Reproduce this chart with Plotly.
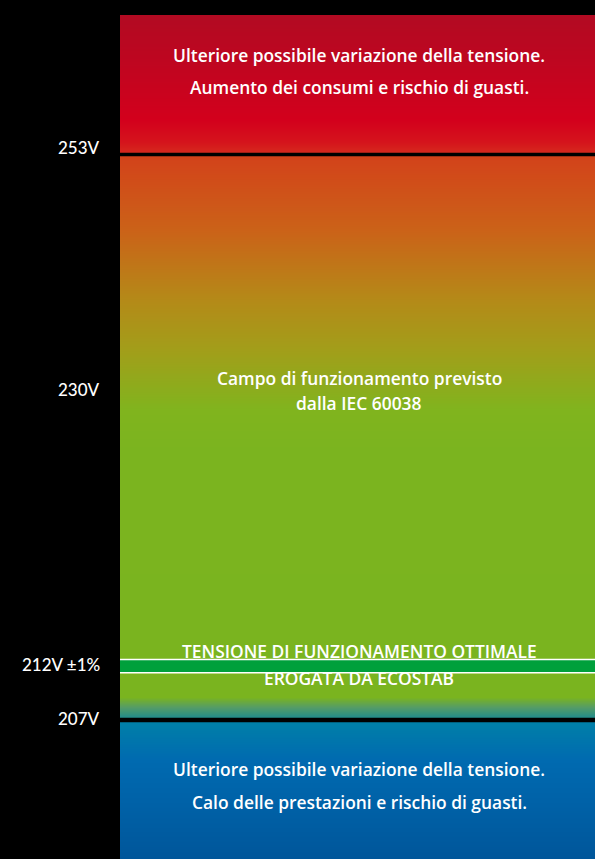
import numpy as np
import plotly.graph_objects as go

# Voltage thresholds and their labels on the left side
voltages = [253, 230, 212, 207]
voltage_labels = ["253V", "230V", "212V ±1%", "207V"]

# Descriptions of each zone (one entry per text line)
zone_over = ["Ulteriore possibile variazione della tensione.",
             "Aumento dei consumi e rischio di guasti."]
zone_iec = ["Campo di funzionamento previsto",
            "dalla IEC 60038"]
zone_ecostab = ["TENSIONE DI FUNZIONAMENTO OTTIMALE",
                "EROGATA DA ECOSTAB"]
zone_under = ["Ulteriore possibile variazione della tensione.",
              "Calo delle prestazioni e rischio di guasti."]

# ---- layout (canvas units: 1 unit = 1 px, y grows downward) ----
W, H = 595, 859
COL_X0, COL_X1 = 120, W
COL_Y0 = 15
COL_CX = 359
LABEL_X = 102
level_y = {253: 154.5, 230: 389, 212: 666, 207: 720}
label_dy = {253: -7, 230: 0, 212: -2, 207: -2}
ECO_BAND = (660, 672)
LABEL_FONT = "Lato"
TEXT_FONT = "Open Sans"

# colour gradient of the column: (y position, colour)
grad = [
    (15, "#b20a22"), (60, "#be0620"), (120, "#d3001c"), (142, "#d5141c"),
    (153, "#d62a1d"), (155, "#d3421a"), (230, "#cb6218"), (300, "#b48a18"),
    (350, "#a29e1a"), (410, "#80b41e"), (450, "#7bb41f"), (697, "#7ab41f"),
    (707, "#559c66"), (718.5, "#1c8a8f"), (721, "#0080a8"), (760, "#006ab0"),
    (800, "#0062a8"), (859, "#00569a"),
]
ymin, ymax = grad[0][0], grad[-1][0]
colorscale = [[(y - ymin) / (ymax - ymin), c] for y, c in grad]

edges = np.arange(COL_Y0, H + 1, 1.0)
centers = (edges[:-1] + edges[1:]) / 2
z = [[v] for v in centers]

fig = go.Figure()
fig.add_trace(go.Heatmap(
    x=[COL_X0, COL_X1], y=edges, z=z,
    colorscale=colorscale, zmin=ymin, zmax=ymax,
    showscale=False, hoverinfo="skip", zsmooth="best",
))

shapes = []
# black separators at 253V and 207V
for v, half in ((253, 1.7), (207, 2.2)):
    yc = level_y[v]
    shapes.append(dict(type="rect", xref="x", yref="y", layer="above",
                       x0=COL_X0, x1=COL_X1, y0=yc - half, y1=yc + half,
                       fillcolor="#000000", line_width=0))
# ECOSTAB optimal band with white borders
shapes.append(dict(type="rect", xref="x", yref="y", layer="above",
                   x0=COL_X0, x1=COL_X1, y0=ECO_BAND[0], y1=ECO_BAND[1],
                   fillcolor="#00a03c", line_width=0))
for yb in (ECO_BAND[0] - 0.5, ECO_BAND[1] + 0.8):
    shapes.append(dict(type="line", xref="x", yref="y", layer="above",
                       x0=COL_X0, x1=COL_X1, y0=yb, y1=yb,
                       line=dict(color="#ffffff", width=1.6)))

annotations = []
for v, lab in zip(voltages, voltage_labels):
    annotations.append(dict(x=LABEL_X, y=level_y[v] + label_dy[v], text=lab,
                            xref="x", yref="y", xanchor="right", yanchor="middle",
                            showarrow=False,
                            font=dict(family=LABEL_FONT, size=17, color="#ffffff",
                                      weight=500)))

zone_lines = [(zone_over, [55, 87]), (zone_iec, [378, 403]),
              (zone_ecostab, [651, 678]), (zone_under, [769, 802])]
for lines, ys in zone_lines:
    for txt, yy in zip(lines, ys):
        annotations.append(dict(x=COL_CX, y=yy, text=txt, xref="x", yref="y",
                                xanchor="center", yanchor="middle", showarrow=False,
                                font=dict(family=TEXT_FONT, size=17.4, color="#ffffff",
                                          weight=600)))

fig.update_layout(
    width=W, height=H, margin=dict(l=0, r=0, t=0, b=0),
    paper_bgcolor="#000000", plot_bgcolor="#000000",
    xaxis=dict(range=[0, W], visible=False, fixedrange=True),
    yaxis=dict(range=[H, 0], visible=False, fixedrange=True),
    shapes=shapes, annotations=annotations, showlegend=False,
)

fig.write_html("out.html", config={"displayModeBar": False})
